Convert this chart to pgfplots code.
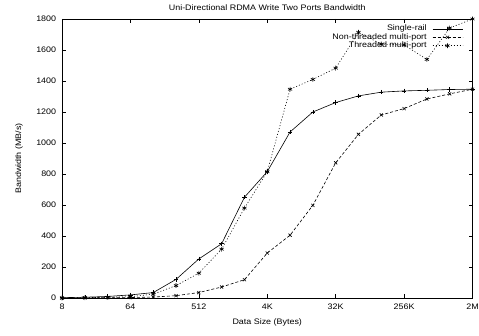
\documentclass[border=0pt]{standalone}
\usepackage{fontspec}
\setmainfont{Liberation Sans}[FakeStretch=1.12]
\usepackage{pgfplots}
\pgfplotsset{compat=1.18}
\begin{document}
\fontsize{8}{9}\selectfont
\begin{tikzpicture}
\useasboundingbox (-62bp,-38bp) rectangle (417bp,298bp);
\begin{axis}[
  at={(0,0)}, anchor=south west,
  scale only axis, width=410.5bp, height=279bp,
  xmode=log, log basis x=2,
  xmin=8, xmax=2097152, ymin=0, ymax=1800,
  xtick={8,64,512,4096,32768,262144,2097152},
  xticklabels={8,64,512,4K,32K,256K,2M},
  ytick={0,200,400,600,800,1000,1200,1400,1600,1800},
  yticklabel style={/pgf/number format/1000 sep={}, xshift=-3bp},
  xticklabel style={yshift=-3bp},
  minor xtick={},
  tick align=inside, tick pos=both,
  major tick length=4bp,
  /pgf/number format/assume math mode=true,
  tick label style={font=\fontsize{8}{9}\selectfont},
  title={Uni-Directional RDMA Write Two Ports Bandwidth},
  xlabel={Data Size (Bytes)},
  ylabel={Bandwidth (MB/s)},
  every axis title/.style={at={(rel axis cs:0.5,1)}, yshift=11bp, anchor=center, font=\fontsize{8}{9}\selectfont},
  every axis x label/.style={at={(rel axis cs:0.5,0)}, yshift=-24bp, anchor=center, font=\fontsize{8}{9}\selectfont},
  every axis y label/.style={at={(rel axis cs:0,0.5)}, xshift=-43bp, rotate=90, anchor=center, font=\fontsize{8}{9}\selectfont},
  axis line style={line width=0.5pt},
  every tick/.style={black, line width=0.5pt},
  legend style={draw=none, fill=none, at={(rel axis cs:1,1)}, xshift=-9.5bp, yshift=-5.5bp, anchor=north east,
    inner sep=0pt, column sep=5bp, row sep=0pt,
    nodes={inner sep=0.5bp, text height=5.8bp, text depth=1.6bp},
    font=\fontsize{8}{8}\selectfont,
    legend cell align=right},
  legend plot pos=right,
  legend image code/.code={\draw[mark repeat=2,mark phase=2] plot coordinates {(0bp,0bp) (15bp,0bp) (30bp,0bp)};},
]
\addplot[black, line width=0.6pt, mark=+, mark size=2.2bp, mark options={solid}] coordinates {
(8,2) (16,5) (32,10) (64,20) (128,35) (256,120) (512,252) (1024,350) (2048,650)
(4096,815) (8192,1071) (16384,1200) (32768,1261) (65536,1304) (131072,1328)
(262144,1336) (524288,1340) (1048576,1345) (2097152,1347)};
\addlegendentry{Single-rail}
\addplot[black, line width=0.6pt, dash pattern=on 3bp off 2bp, mark=x, mark size=2.2bp, mark options={solid}] coordinates {
(8,0) (16,1) (32,2) (64,3) (128,6) (256,15) (512,35) (1024,71) (2048,118)
(4096,290) (8192,405) (16384,598) (32768,872) (65536,1056) (131072,1181)
(262144,1222) (524288,1284) (1048576,1317) (2097152,1347)};
\addlegendentry{Non-threaded multi-port}
\addplot[black, line width=0.6pt, dash pattern=on 1bp off 2bp, mark=asterisk, mark size=2.4bp, mark options={solid}] coordinates {
(8,0) (16,2) (32,5) (64,8) (128,25) (256,80) (512,160) (1024,315) (2048,580)
(4096,815) (8192,1347) (16384,1410) (32768,1483) (65536,1714) (131072,1638)
(262144,1633) (524288,1539) (1048576,1742) (2097152,1800)};
\addlegendentry{Threaded multi-port}
\end{axis}
\end{tikzpicture}
\end{document}
